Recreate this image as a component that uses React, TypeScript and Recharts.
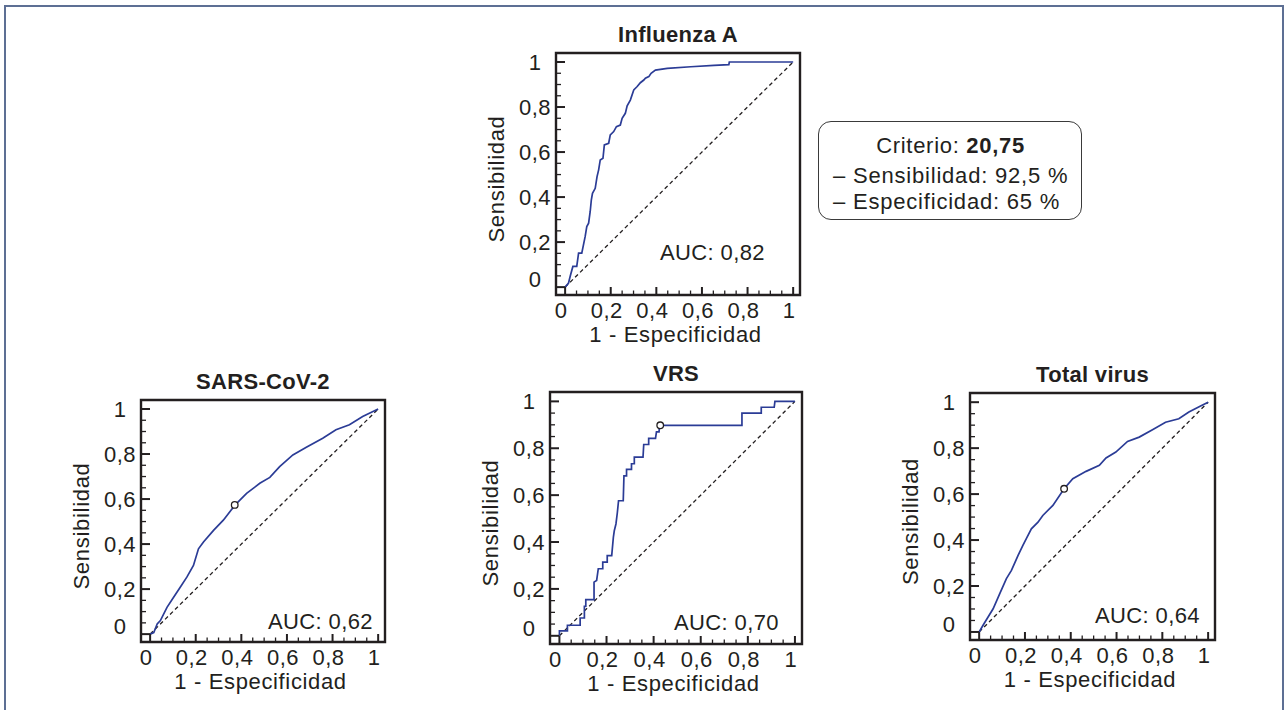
import React from 'react';
import { LineChart, Line, XAxis, YAxis, ReferenceLine, ReferenceDot, ReferenceArea } from 'recharts';

// ---------- axis ticks ----------
const axisTicks = [0, 0.05, 0.1, 0.15, 0.2, 0.25, 0.3, 0.35, 0.4, 0.45, 0.5, 0.55, 0.6, 0.65, 0.7, 0.75, 0.8, 0.85, 0.9, 0.95, 1];
const majorTicks = [0, 0.2, 0.4, 0.6, 0.8, 1];
const majorTickLabels = ['0', '0,2', '0,4', '0,6', '0,8', '1'];
const xDomain: [number, number] = [-0.04, 1.03];
const yDomain: [number, number] = [-0.035, 1.04];

// ---------- Influenza A ----------
const fluX = [0, 0.015, 0.022, 0.034, 0.051, 0.059, 0.073, 0.088, 0.095, 0.103, 0.11, 0.115, 0.12, 0.132, 0.14, 0.147, 0.154, 0.166, 0.172, 0.191, 0.198, 0.213, 0.225, 0.242, 0.25, 0.264, 0.272, 0.286, 0.301, 0.316, 0.33, 0.345, 0.352, 0.367, 0.377, 0.396, 0.448, 0.551, 0.653, 0.718, 0.72, 1];
const fluY = [0, 0.018, 0.047, 0.092, 0.092, 0.151, 0.151, 0.225, 0.269, 0.284, 0.336, 0.388, 0.417, 0.439, 0.491, 0.521, 0.565, 0.572, 0.632, 0.639, 0.676, 0.691, 0.713, 0.72, 0.75, 0.772, 0.805, 0.831, 0.876, 0.891, 0.908, 0.92, 0.928, 0.935, 0.95, 0.964, 0.972, 0.979, 0.985, 0.988, 1, 1];

// ---------- SARS-CoV-2 ----------
const sarsX = [0, 0.016, 0.031, 0.045, 0.074, 0.103, 0.132, 0.161, 0.19, 0.212, 0.234, 0.278, 0.321, 0.372, 0.423, 0.481, 0.525, 0.568, 0.626, 0.685, 0.757, 0.815, 0.874, 0.932, 1];
const sarsY = [0, 0.007, 0.045, 0.06, 0.119, 0.164, 0.208, 0.253, 0.305, 0.379, 0.409, 0.461, 0.506, 0.573, 0.625, 0.67, 0.696, 0.744, 0.796, 0.83, 0.87, 0.908, 0.93, 0.967, 1];
const sarsCut = { x: 0.371, y: 0.574 };

// ---------- VRS ----------
const vrsX = [0, 0, 0.034, 0.034, 0.088, 0.088, 0.106, 0.106, 0.112, 0.112, 0.147, 0.147, 0.158, 0.165, 0.184, 0.184, 0.203, 0.203, 0.222, 0.229, 0.233, 0.24, 0.246, 0.251, 0.271, 0.274, 0.285, 0.285, 0.306, 0.306, 0.318, 0.318, 0.355, 0.358, 0.379, 0.379, 0.408, 0.412, 0.423, 0.425, 0.775, 0.775, 0.857, 0.857, 0.912, 0.915, 1];
const vrsY = [0, 0.021, 0.021, 0.045, 0.045, 0.076, 0.076, 0.126, 0.126, 0.154, 0.154, 0.229, 0.236, 0.286, 0.286, 0.314, 0.314, 0.342, 0.342, 0.42, 0.448, 0.477, 0.526, 0.576, 0.576, 0.682, 0.682, 0.71, 0.71, 0.734, 0.734, 0.762, 0.762, 0.816, 0.816, 0.842, 0.842, 0.87, 0.87, 0.898, 0.898, 0.95, 0.95, 0.975, 0.975, 1, 1];
const vrsCut = { x: 0.428, y: 0.898 };

// ---------- Total virus ----------
const totX = [0, 0.017, 0.039, 0.061, 0.09, 0.119, 0.141, 0.17, 0.191, 0.206, 0.228, 0.257, 0.278, 0.322, 0.371, 0.409, 0.467, 0.525, 0.554, 0.597, 0.648, 0.699, 0.757, 0.814, 0.872, 0.916, 0.967, 1];
const totY = [0, 0.029, 0.065, 0.101, 0.167, 0.232, 0.268, 0.333, 0.377, 0.406, 0.449, 0.478, 0.507, 0.551, 0.623, 0.667, 0.699, 0.725, 0.757, 0.783, 0.829, 0.848, 0.88, 0.913, 0.928, 0.957, 0.983, 1];
const totCut = { x: 0.371, y: 0.623 };

const titles = ['Influenza A', 'SARS-CoV-2', 'VRS', 'Total virus'];
const aucLabels = ['AUC: 0,82', 'AUC: 0,62', 'AUC: 0,70', 'AUC: 0,64'];
const xTitle = '1 - Especificidad';
const yTitle = 'Sensibilidad';
const criterionValue = '20,75';
const criterionLines = ['– Sensibilidad: 92,5 %', '– Especificidad: 65 %'];

// ---------- styles ----------
const INK = '#231f20';
const CURVE = '#2b3c96';
const FONT = '"Liberation Sans", Arial, Helvetica, sans-serif';
const ML = 100, MT = 50, MR = 20, MB = 70;

const toRows = (xs: number[], ys: number[]) => xs.map((x, i) => ({ x, y: ys[i] }));

const XTick = (props: any) => {
  const { x, y, payload } = props;
  const idx = majorTicks.indexOf(payload.value);
  const major = idx >= 0;
  return (
    <g>
      <line x1={x} x2={x} y1={y} y2={y - (major ? 8 : 4.5)} stroke={INK} strokeWidth={major ? 2 : 1.3} />
      {major && (
        <text x={x - 4} y={y + 22.5} textAnchor="middle" fontFamily={FONT} fontSize={22} letterSpacing={0.5} fill={INK}>
          {majorTickLabels[idx]}
        </text>
      )}
    </g>
  );
};

const YTick = (props: any) => {
  const { x, y, payload } = props;
  const idx = majorTicks.indexOf(payload.value);
  const major = idx >= 0;
  return (
    <g>
      <line x1={x} x2={x + (major ? 9 : 5)} y1={y} y2={y} stroke={INK} strokeWidth={major ? 2 : 1.3} />
      {major && (
        <text x={x - 21} y={y + 7.9 - (payload.value === 0 ? 8 : 0)} textAnchor="middle" fontFamily={FONT} fontSize={22} letterSpacing={0.5} fill={INK}>
          {majorTickLabels[idx]}
        </text>
      )}
    </g>
  );
};

type PanelProps = {
  left: number; top: number; w: number; h: number;
  xs: number[]; ys: number[]; cut?: { x: number; y: number };
  title: string; auc: string; aucDx: number; aucDy: number;
};

const Panel = ({ left, top, w, h, xs, ys, cut, title, auc, aucDx, aucDy }: PanelProps) => {
  const W = ML + w + MR;
  const H = MT + h + MB;
  const rows = toRows(xs, ys);
  return (
    <div style={{ position: 'absolute', left: left - ML, top: top - MT, width: W, height: H }}>
      <LineChart width={W} height={H} data={rows} margin={{ top: MT, right: MR, bottom: 0, left: 0 }}>
        <XAxis type="number" dataKey="x" domain={xDomain} allowDataOverflow ticks={axisTicks} interval={0}
          axisLine={false} tickLine={false} tickSize={0} tickMargin={0} height={MB} tick={<XTick />} />
        <YAxis type="number" dataKey="y" domain={yDomain} allowDataOverflow ticks={axisTicks} interval={0}
          axisLine={false} tickLine={false} tickSize={0} tickMargin={0} width={ML} tick={<YTick />} />
        <ReferenceArea x1={xDomain[0]} x2={xDomain[1]} y1={yDomain[0]} y2={yDomain[1]} fill="none" fillOpacity={0}
          stroke={INK} strokeWidth={2.4} ifOverflow="visible" />
        <ReferenceLine segment={[{ x: 0, y: 0 }, { x: 1, y: 1 }]} stroke={INK} strokeWidth={1.3} strokeDasharray="4 3" />
        <Line type="linear" dataKey="y" stroke={CURVE} strokeWidth={1.7} dot={false} isAnimationActive={false} />
        {cut && <ReferenceDot x={cut.x} y={cut.y} r={3.3} fill="#fff" stroke={INK} strokeWidth={1.3} />}
      </LineChart>
      <svg width={W} height={H} style={{ position: 'absolute', left: 0, top: 0, pointerEvents: 'none' }}>
        <text x={ML + w / 2} y={MT - 11} textAnchor="middle" fontFamily={FONT} fontWeight="bold" fontSize={22} letterSpacing={0.3} fill={INK}>{title}</text>
        <text x={ML + w / 2 - 2.5} y={MT + h + 46.5} textAnchor="middle" fontFamily={FONT} fontSize={22} letterSpacing={0.65} fill={INK}>{xTitle}</text>
        <text x={ML - 52} y={MT + h / 2 + 5} transform={`rotate(-90, ${ML - 52}, ${MT + h / 2 + 5})`} textAnchor="middle" fontFamily={FONT} fontSize={22} letterSpacing={0.7} fill={INK}>{yTitle}</text>
        <text x={ML + w + aucDx} y={MT + h + aucDy} textAnchor="end" fontFamily={FONT} fontSize={22} letterSpacing={0.4} fill={INK}>{auc}</text>
      </svg>
    </div>
  );
};

export default function App() {
  return (
    <div style={{ position: 'absolute', left: 0, top: 0, width: 1285, height: 710, background: '#fff', overflow: 'hidden' }}>
      {/* figure frame */}
      <div style={{ position: 'absolute', left: 4, top: 5, width: 1280, height: 705, borderTop: '2.5px solid #5d6f94', borderLeft: '2.7px solid #5d6f94', borderRight: '2.5px solid #5d6f94', boxSizing: 'border-box' }} />
      <Panel left={556} top={53} w={244} h={242} xs={fluX} ys={fluY} title={titles[0]} auc={aucLabels[0]} aucDx={-35} aucDy={-35} />
      <Panel left={141} top={400} w={244} h={242} xs={sarsX} ys={sarsY} cut={sarsCut} title={titles[1]} auc={aucLabels[1]} aucDx={-12} aucDy={-13} />
      <Panel left={550} top={392} w={252} h={252} xs={vrsX} ys={vrsY} cut={vrsCut} title={titles[2]} auc={aucLabels[2]} aucDx={-23} aucDy={-14} />
      <Panel left={970} top={393} w={245} h={247} xs={totX} ys={totY} cut={totCut} title={titles[3]} auc={aucLabels[3]} aucDx={-15} aucDy={-17} />
      {/* criterion box */}
      <div style={{ position: 'absolute', left: 818, top: 120.5, width: 263.5, height: 99.5, border: '1.5px solid #3a3a3a', borderRadius: 13, boxSizing: 'border-box' }} />
      <svg width={1285} height={710} style={{ position: 'absolute', left: 0, top: 0, pointerEvents: 'none' }}>
        <text x={950.5} y={152.5} textAnchor="middle" fontFamily={FONT} fontSize={22} letterSpacing={0.7} fill={INK}>
          Criterio: <tspan fontWeight="bold">{criterionValue}</tspan>
        </text>
        <text x={833} y={183.3} fontFamily={FONT} fontSize={22} letterSpacing={0.8} fill={INK}>{criterionLines[0]}</text>
        <text x={833} y={209} fontFamily={FONT} fontSize={22} letterSpacing={0.8} fill={INK}>{criterionLines[1]}</text>
      </svg>
    </div>
  );
}
